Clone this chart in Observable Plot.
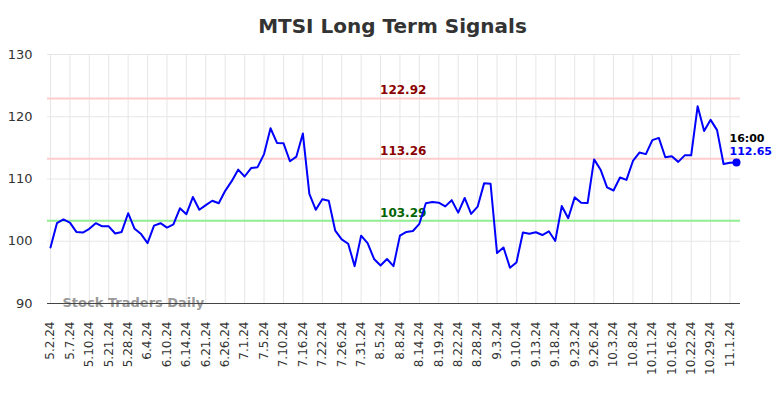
<!DOCTYPE html>
<html>
<head>
<meta charset="utf-8">
<script src="https://cdn.jsdelivr.net/npm/d3@7"></script>
<script src="https://cdn.jsdelivr.net/npm/@observablehq/plot@0.6"></script>
<style>
  html, body { margin: 0; padding: 0; background: white; }
  #chart svg { display: block; }
</style>
</head>
<body>
<div id="chart"></div>
<script>
const title = "MTSI Long Term Signals";
const watermark = "Stock Traders Daily";
const lastTime = "16:00";

const tickLabels = [
  "5.2.24","5.7.24","5.10.24","5.21.24","5.28.24","6.4.24","6.10.24","6.14.24","6.21.24","6.26.24",
  "7.1.24","7.5.24","7.10.24","7.16.24","7.22.24","7.26.24","7.31.24","8.5.24","8.8.24","8.14.24",
  "8.19.24","8.22.24","8.28.24","9.3.24","9.10.24","9.13.24","9.18.24","9.23.24","9.26.24","10.3.24",
  "10.8.24","10.11.24","10.16.24","10.22.24","10.29.24","11.1.24"
];
const pointsPerTick = 3;

const prices = [
  99.0, 102.9, 103.5, 103.0, 101.5, 101.4, 102.0, 102.9, 102.4, 102.4,
  101.25, 101.5, 104.5, 102.0, 101.15, 99.7, 102.5, 102.9, 102.2, 102.7,
  105.3, 104.35, 107.1, 105.05, 105.8, 106.5, 106.1, 108.1, 109.65, 111.5,
  110.4, 111.75, 111.9, 114.0, 118.15, 115.8, 115.75, 112.85, 113.6, 117.3,
  107.6, 105.05, 106.75, 106.5, 101.7, 100.3, 99.6, 96.0, 100.9, 99.7,
  97.15, 96.1, 97.15, 96.0, 100.9, 101.5, 101.65, 102.8, 106.1, 106.3,
  106.2, 105.6, 106.6, 104.6, 106.95, 104.4, 105.55, 109.3, 109.25, 98.1,
  99.0, 95.75, 96.6, 101.4, 101.2, 101.45, 101.0, 101.6, 100.05, 105.65,
  103.7, 107.05, 106.2, 106.15, 113.15, 111.5, 108.65, 108.15, 110.25, 109.85,
  112.9, 114.25, 114.0, 116.25, 116.6, 113.5, 113.65, 112.75, 113.8, 113.8,
  121.7, 117.7, 119.5, 117.85, 112.4, 112.6, 112.65
];

const resistanceLevels = [122.92, 113.26];
const supportLevels = [103.29];
const yTicks = [90, 100, 110, 120, 130];

const data = prices.map((v, i) => ({i, v}));
const tickIdx = tickLabels.map((_, k) => k * pointsPerTick);
const lastPoint = [data[data.length - 1]];
const labelIdx = 54.5;

const fam = "DejaVu Sans";

const chart = Plot.plot({
  width: 784,
  height: 398,
  marginTop: 54,
  marginBottom: 95,
  marginLeft: 47,
  marginRight: 44,
  style: {fontFamily: fam, background: "white", color: "#333"},
  x: {type: "linear", domain: [-0.46, 106.62]},
  y: {domain: [90, 130]},
  marks: [
    Plot.gridY(yTicks, {stroke: "#e6e6e6", strokeOpacity: 1, strokeWidth: 1}),
    Plot.gridX(tickIdx, {stroke: "#e6e6e6", strokeOpacity: 1, strokeWidth: 1}),
    Plot.ruleY(resistanceLevels, {stroke: "#ffcccc", strokeWidth: 2}),
    Plot.ruleY(supportLevels, {stroke: "#90ee90", strokeWidth: 2}),
    Plot.text(resistanceLevels, {x: () => labelIdx, y: d => d, text: d => d.toFixed(2), dy: -8,
      fill: "#8b0000", fontWeight: "bold", fontSize: 12, fontFamily: fam}),
    Plot.text(supportLevels, {x: () => labelIdx, y: d => d, text: d => d.toFixed(2), dy: -8,
      fill: "#006400", fontWeight: "bold", fontSize: 12, fontFamily: fam}),
    Plot.line(data, {x: "i", y: "v", stroke: "#0000ff", strokeWidth: 2}),
    Plot.text([watermark], {frameAnchor: "bottom-left", text: d => d, textAnchor: "start", lineAnchor: "middle",
      dx: 15, dy: -1, fill: "#999", fontWeight: "bold", fontSize: 13, fontFamily: fam}),
    Plot.ruleY([90], {stroke: "#444", strokeWidth: 1}),
    Plot.dot(lastPoint, {x: "i", y: "v", r: 4, fill: "#0000ff"}),
    Plot.text(lastPoint, {x: "i", y: "v", text: () => lastTime, textAnchor: "start", dx: -7, dy: -24,
      fill: "black", fontWeight: "bold", fontSize: 11, fontFamily: fam}),
    Plot.text(lastPoint, {x: "i", y: "v", text: d => d.v.toFixed(2), textAnchor: "start", dx: -7, dy: -11,
      fill: "#0000ff", fontWeight: "bold", fontSize: 11, fontFamily: fam}),
    Plot.text([title], {frameAnchor: "top", text: d => d, lineAnchor: "middle", dy: -28, dx: -1.5,
      fill: "#333", fontWeight: "bold", fontSize: 20, fontFamily: fam}),
    Plot.axisY({ticks: yTicks, tickSize: 0, tickPadding: 15, fontSize: 13, fill: "#333", tickFormat: d => d, label: null}),
    Plot.axisX({ticks: tickIdx, tickSize: 0, tickPadding: 18, tickRotate: -90, fontSize: 12, fill: "#333",
      tickFormat: d => tickLabels[Math.round(d / pointsPerTick)], label: null})
  ]
});
document.getElementById("chart").appendChild(chart);
</script>
</body>
</html>
